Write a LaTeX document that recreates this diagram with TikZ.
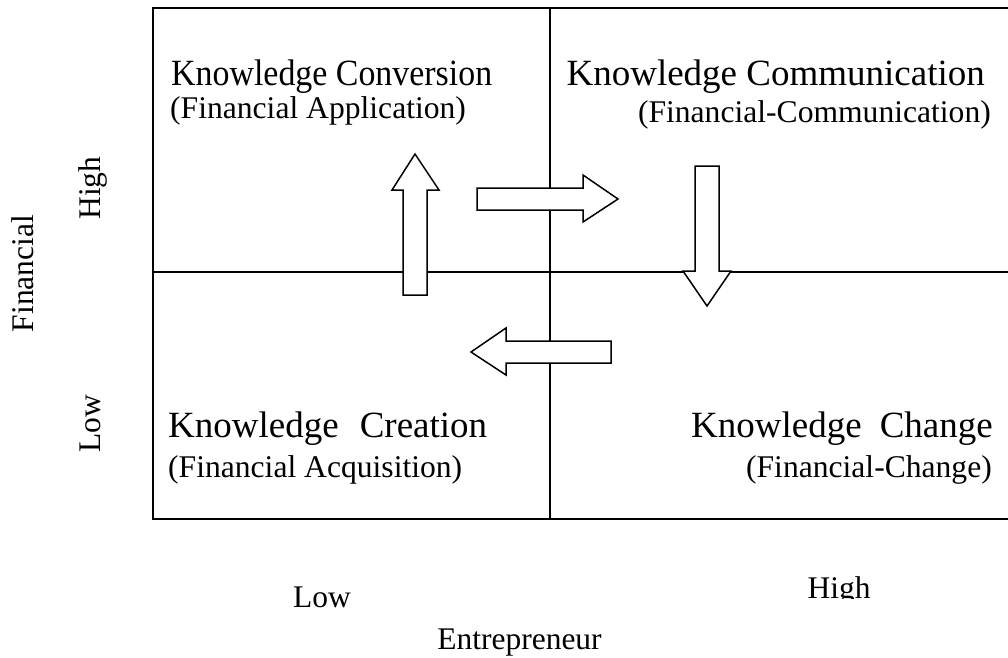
\documentclass[tikz,border=0pt]{standalone}
\usepackage{graphicx}
\usepackage{fontspec}
\setmainfont{Liberation Serif}
\begin{document}
\begin{tikzpicture}[x=1pt,y=-1pt,
  title/.style={inner sep=0pt, font=\fontsize{37}{40}\selectfont},
  sub/.style={inner sep=0pt, font=\fontsize{31.6}{34}\selectfont},
  axislbl/.style={inner sep=0pt, font=\fontsize{31.5}{34}\selectfont},
  blockarrow/.style={draw=black, fill=white, line width=1.5pt, line join=miter},
  frame/.style={line width=2pt},
  divider/.style={line width=1.4pt}]
\useasboundingbox (0,0) rectangle (1008,657);
\fill[white] (0,0) rectangle (1008,657);

% quadrant frame, open on the right
\draw[frame] (1012,8) -- (153,8) -- (153,519) -- (1012,519);
\draw[divider] (550,8) -- (550,519);
\draw[divider] (153,272) -- (1012,272);

% block arrows of the knowledge cycle
\draw[blockarrow] (403,295) -- (403,190) -- (392,190) -- (415,154) -- (439,190) -- (427,190) -- (427,295) -- cycle;
\draw[blockarrow] (477,188) -- (583,188) -- (583,175) -- (618,199) -- (583,222) -- (583,210) -- (477,210) -- cycle;
\draw[blockarrow] (695,166) -- (719,166) -- (719,271) -- (731,271) -- (707,306) -- (683,271) -- (695,271) -- cycle;
\draw[blockarrow] (611,341) -- (506,341) -- (506,328) -- (471,352) -- (506,375) -- (506,363) -- (611,363) -- cycle;

% quadrant texts
\node[title, anchor=base west] (tlT) at (171,85) {\resizebox{321pt}{\height}{Knowledge Conversion}};
\node[sub, anchor=base west] (tlS) at (170,118) {(Financial Application)};
\node[title, anchor=base east] (trT) at (985,85) {Knowledge Communication};
\node[sub, anchor=base east] (trS) at (991,122) {(Financial-Communication)};
\node[title, anchor=base west] (blT) at (168,437) {Knowledge\hspace{21pt}Creation};
\node[sub, anchor=base west] (blS) at (168,477) {(Financial Acquisition)};
\node[title, anchor=base east] (brT) at (993,437) {Knowledge\hspace{18pt}Change};
\node[sub, anchor=base east] (brS) at (992,477) {(Financial-Change)};

% horizontal axis
\node[axislbl, anchor=base] (xlow) at (322,607) {Low};
\begin{scope}
  \clip (780,560) rectangle (900,598.5);
  \node[axislbl, anchor=base] (xhigh) at (839,598) {High};
\end{scope}
\node[axislbl, anchor=base] (xname) at (519.5,649) {Entrepreneur};

% vertical axis
\node[axislbl, rotate=90, anchor=base] (yname) at (33,273.5) {Financial};
\node[axislbl, rotate=90, anchor=base] (yhigh) at (100,188) {High};
\node[axislbl, rotate=90, anchor=base] (ylow) at (100,424) {Low};
\end{tikzpicture}
\end{document}
